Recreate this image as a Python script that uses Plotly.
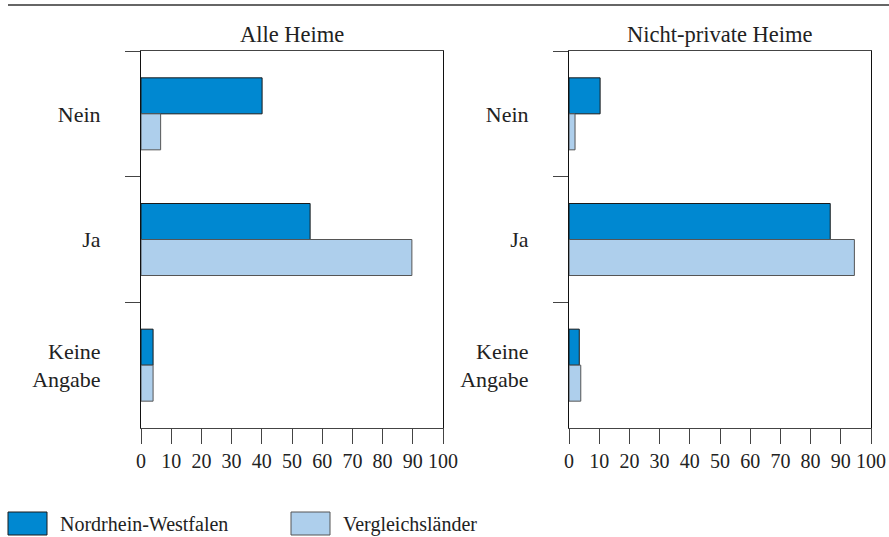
import plotly.graph_objects as go

categories = ["Nein", "Ja", "Keine<br>Angabe"]
series_names = ["Nordrhein-Westfalen", "Vergleichsländer"]
panel_titles = ["Alle Heime", "Nicht-private Heime"]

alle_nrw = [40.1, 56.0, 4.0]
alle_vgl = [6.5, 89.7, 4.0]
nicht_nrw = [10.3, 86.5, 3.4]
nicht_vgl = [2.0, 94.5, 3.9]

x_ticks = [0, 10, 20, 30, 40, 50, 60, 70, 80, 90, 100]

NRW_COLOR = "#0088D1"
VGL_COLOR = "#AECFEC"
FONT = "'Liberation Serif', 'Times New Roman', 'DejaVu Serif', serif"
W, H = 889, 537

fig = go.Figure()

panels = [(alle_nrw, alle_vgl, "x", "y"), (nicht_nrw, nicht_vgl, "x2", "y2")]
for nrw, vgl, xa, ya in panels:
    fig.add_trace(go.Bar(y=categories, x=nrw, orientation="h", name=series_names[0],
                         marker=dict(color=NRW_COLOR, line=dict(color="#1a1a1a", width=1)),
                         xaxis=xa, yaxis=ya, showlegend=False))
    fig.add_trace(go.Bar(y=categories, x=vgl, orientation="h", name=series_names[1],
                         marker=dict(color=VGL_COLOR, line=dict(color="#555555", width=1)),
                         xaxis=xa, yaxis=ya, showlegend=False))

y_dom = [1 - 428 / H, 1 - 51 / H]
x_doms = [[141 / W, 443 / W], [569 / W, 871 / W]]

def xaxis(dom, anchor):
    return dict(domain=dom, anchor=anchor, range=[0, 100], tickvals=x_ticks,
                ticks="outside", ticklen=15, tickwidth=1, tickcolor="#444444",
                showline=True, linecolor="#444444", linewidth=1, mirror=True,
                showgrid=False, zeroline=False, fixedrange=True, automargin=False,
                tickfont=dict(family=FONT, size=20, color="#222222"))

def yaxis(anchor):
    return dict(domain=y_dom, anchor=anchor, type="category",
                categoryorder="array", categoryarray=categories,
                autorange="reversed", tickson="boundaries",
                ticks="outside", ticklen=15, tickwidth=1, tickcolor="#444444",
                showline=True, linecolor="#111111", linewidth=1, mirror=True,
                showgrid=False, zeroline=False, fixedrange=True, automargin=False,
                ticklabelstandoff=35,
                tickfont=dict(family=FONT, size=22, color="#222222"))

fig.update_layout(
    width=W, height=H, autosize=False,
    margin=dict(l=0, r=0, t=0, b=0, autoexpand=False),
    paper_bgcolor="white", plot_bgcolor="white",
    barmode="group", bargap=0.427, bargroupgap=0,
    font=dict(family=FONT, size=20, color="#222222"),
    xaxis=xaxis(x_doms[0], "y"),
    yaxis=yaxis("x"),
    xaxis2=xaxis(x_doms[1], "y2"),
    yaxis2=yaxis("x2"),
    showlegend=False,
)

# Panel titles
for title, dom in zip(panel_titles, x_doms):
    fig.add_annotation(text=title, x=(dom[0] + dom[1]) / 2, y=1 - 35 / H,
                       xref="paper", yref="paper", showarrow=False,
                       xanchor="center", yanchor="middle",
                       font=dict(family=FONT, size=22.5, color="#222222"))

# Top rule
fig.add_shape(type="line", xref="paper", yref="paper",
              x0=8 / W, x1=1, y0=1 - 5 / H, y1=1 - 5 / H,
              line=dict(color="#333333", width=1.5))

# Custom legend
legend_items = [(series_names[0], NRW_COLOR, "#1a1a1a", 8), (series_names[1], VGL_COLOR, "#555555", 291)]
for name, color, lc, x0 in legend_items:
    fig.add_shape(type="rect", xref="paper", yref="paper",
                  x0=x0 / W, x1=(x0 + 39) / W, y0=1 - 535 / H, y1=1 - 512 / H,
                  fillcolor=color, line=dict(color=lc, width=1))
    fig.add_annotation(text=name, x=(x0 + 50) / W, y=1 - 524 / H,
                       xref="paper", yref="paper", showarrow=False,
                       xanchor="left", yanchor="middle",
                       font=dict(family=FONT, size=20, color="#222222"))

fig.write_html("out.html",
               config={"displayModeBar": False, "responsive": False},
               post_script="document.body.style.margin='0';document.body.style.overflow='hidden';")
